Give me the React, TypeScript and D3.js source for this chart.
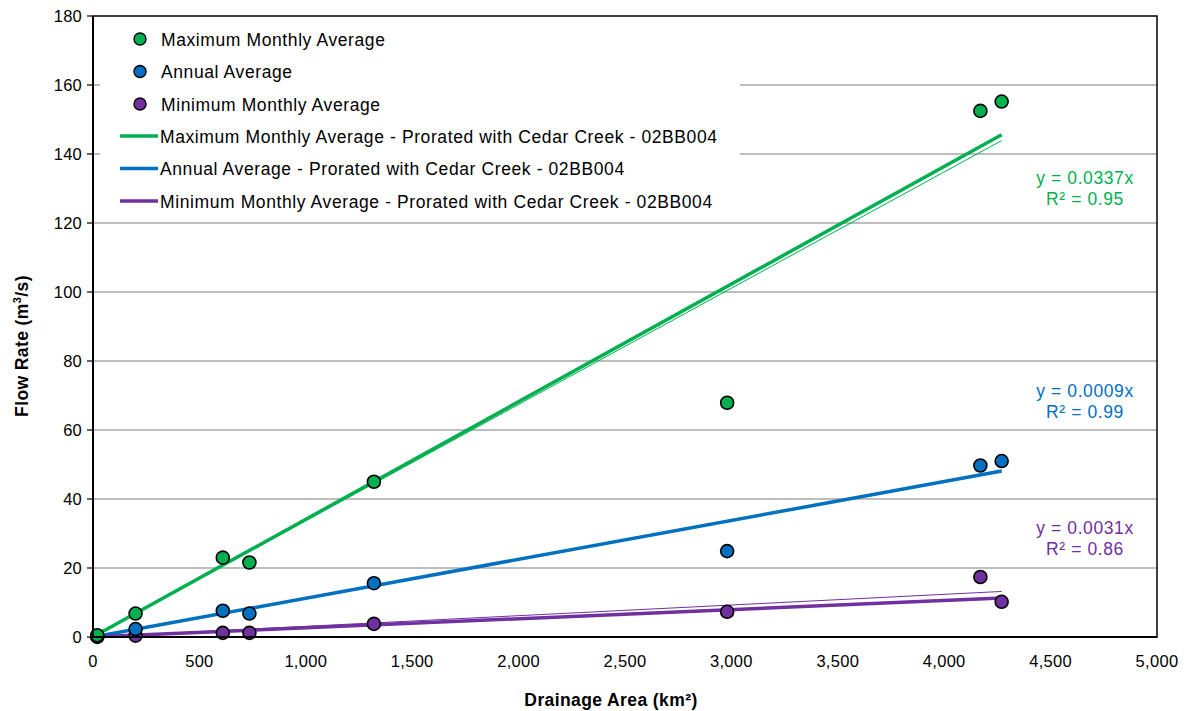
import React from "react";
import * as d3 from "d3";

const areas = [20, 200, 610, 735, 1320, 2980, 4170, 4270];
const maxMonthly = [0.5, 6.8, 23, 21.6, 45, 67.9, 152.5, 155.2];
const annualAvg = [0.3, 2.3, 7.6, 6.8, 15.6, 24.9, 49.7, 51];
const minMonthly = [0.05, 0.4, 1.2, 1.2, 3.8, 7.3, 17.4, 10.2];

const proratedX = [20, 4270];
const proratedMax = [0.7, 145.6];
const proratedAnnual = [0.2, 48.1];
const proratedMin = [0.05, 11.3];

const trendX = [0, 4270];
const trendMax = [0, 143.9];
const trendAnnual = [0, 48.3];
const trendMin = [0, 13.2];

const xTicks = [0, 500, 1000, 1500, 2000, 2500, 3000, 3500, 4000, 4500, 5000];
const yTicks = [0, 20, 40, 60, 80, 100, 120, 140, 160, 180];

const GREEN = "#00B050";
const BLUE = "#0070C0";
const PURPLE = "#7030A0";

const seriesNames = ["Maximum Monthly Average", "Annual Average", "Minimum Monthly Average"];
const lineNames = [
  "Maximum Monthly Average - Prorated with Cedar Creek - 02BB004",
  "Annual Average - Prorated with Cedar Creek - 02BB004",
  "Minimum Monthly Average - Prorated with Cedar Creek - 02BB004",
];
const eqLabels = ["y = 0.0337x", "y = 0.0009x", "y = 0.0031x"];
const r2Labels = ["R² = 0.95", "R² = 0.99", "R² = 0.86"];

export default function App() {
  const W = 1186, H = 711;
  const L = 93, R = 1157, T = 16, B = 637;
  const x = d3.scaleLinear().domain([0, 5000]).range([L, R]);
  const y = d3.scaleLinear().domain([0, 180]).range([B, T]);
  const fmt = d3.format(",");
  const font = "'Liberation Sans', Arial, sans-serif";
  const colors = [GREEN, BLUE, PURPLE];
  const pts = [maxMonthly, annualAvg, minMonthly];
  const prorated = [proratedMax, proratedAnnual, proratedMin];
  const trends = [trendMax, trendAnnual, trendMin];
  const line = d3.line<[number, number]>().x((d) => x(d[0])).y((d) => y(d[1]));
  const eqCenters = [178, 391, 528];

  return (
    <svg width={W} height={H} style={{ position: "absolute", left: 0, top: 0, background: "#fff" }} fontFamily={font}>
      <rect x={0} y={0} width={W} height={H} fill="#fff" />
      {yTicks.slice(1, -1).map((t) => (
        <line key={t} x1={L} x2={R} y1={y(t)} y2={y(t)} stroke="#7f7f7f" strokeWidth={1.2} />
      ))}
      {/* legend background */}
      <rect x={100} y={18} width={640} height={202} fill="#fff" />
      {trends.map((tv, i) => (
        <path key={"t" + i} d={line(trendX.map((v, j) => [v, tv[j]]) as [number, number][]) || ""} fill="none" stroke={colors[i]} strokeWidth={1} />
      ))}
      {prorated.map((pv, i) => (
        <path key={"p" + i} d={line(proratedX.map((v, j) => [v, pv[j]]) as [number, number][]) || ""} fill="none" stroke={colors[i]} strokeWidth={3.5} />
      ))}
      {[2, 1, 0].map((i) =>
        pts[i].map((v, j) => (
          <circle key={i + "-" + j} cx={x(areas[j])} cy={y(v)} r={6.5} fill={colors[i]} stroke="#000" strokeWidth={1.6} />
        ))
      )}
      <rect x={L} y={T} width={R - L} height={B - T} fill="none" stroke="#000" strokeWidth={1.5} />
      <line x1={L} x2={L} y1={T} y2={B} stroke="#000" strokeWidth={2} />
      <line x1={L} x2={R} y1={B} y2={B} stroke="#000" strokeWidth={2} />
      {yTicks.map((t) => (
        <g key={t}>
          <line x1={L - 6} x2={L} y1={y(t)} y2={y(t)} stroke="#000" strokeWidth={1.2} />
          <text x={L - 11} y={y(t) + 6} textAnchor="end" fontSize={16.5} letterSpacing={0.2} fill="#000">{t}</text>
        </g>
      ))}
      {xTicks.map((t) => (
        <text key={t} x={x(t)} y={667} textAnchor="middle" fontSize={16.5} letterSpacing={0.3} fill="#000">{fmt(t)}</text>
      ))}
      <text x={611} y={706} textAnchor="middle" fontSize={17.5} letterSpacing={0.4} fontWeight="bold" fill="#000">
        Drainage Area (km²)
      </text>
      <text transform="translate(28,346) rotate(-90)" textAnchor="middle" fontSize={17.5} letterSpacing={0.4} fontWeight="bold" fill="#000">
        Flow Rate (m<tspan dy={-7} fontSize={11}>3</tspan><tspan dy={7}>/s)</tspan>
      </text>
      {seriesNames.map((n, i) => (
        <g key={n}>
          <circle cx={140} cy={39 + i * 32.5} r={6} fill={colors[i]} stroke="#000" strokeWidth={1.4} />
          <text x={161} y={45.5 + i * 32.5} fontSize={17.5} letterSpacing={0.6} fill="#000">{n}</text>
        </g>
      ))}
      {lineNames.map((n, i) => (
        <g key={n}>
          <line x1={120} x2={158} y1={136 + i * 32.5} y2={136 + i * 32.5} stroke={colors[i]} strokeWidth={3.5} />
          <text x={160} y={142.5 + i * 32.5} fontSize={17.5} letterSpacing={0.6} fill="#000">{n}</text>
        </g>
      ))}
      {eqLabels.map((e, i) => (
        <g key={e}>
          <text x={1085} y={eqCenters[i] + 6} textAnchor="middle" fontSize={17.5} letterSpacing={0.6} fill={colors[i]}>{e}</text>
          <text x={1085} y={eqCenters[i] + 27} textAnchor="middle" fontSize={17.5} letterSpacing={0.6} fill={colors[i]}>{r2Labels[i]}</text>
        </g>
      ))}
    </svg>
  );
}
